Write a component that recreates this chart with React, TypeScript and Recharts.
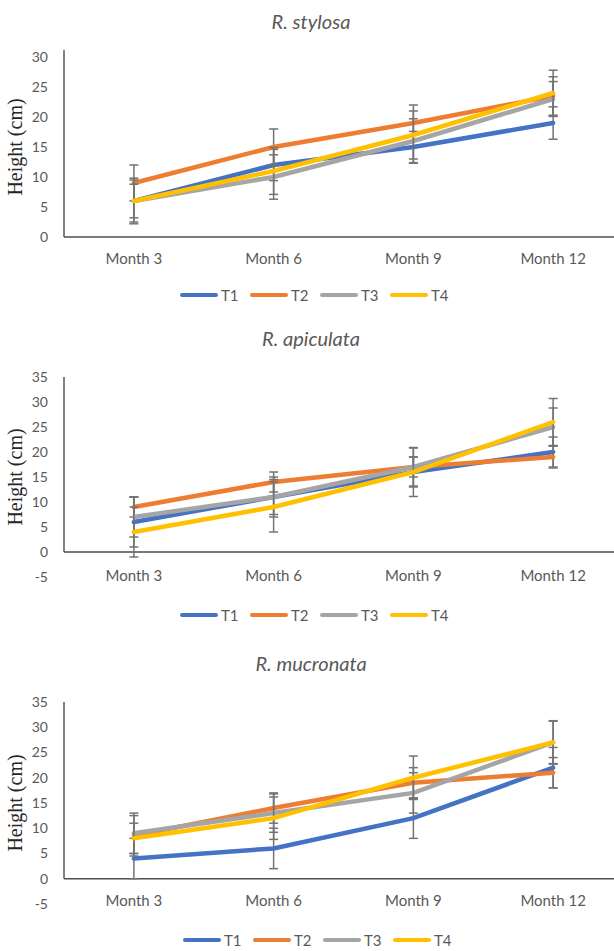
import { LineChart, Line, XAxis, YAxis, ErrorBar, ReferenceLine } from "recharts";

const months = ["Month 3", "Month 6", "Month 9", "Month 12"];
const seriesNames = ["T1", "T2", "T3", "T4"];
const COLORS = ["#4472C4", "#ED7D31", "#A5A5A5", "#FFC000"];

// R. stylosa
const stylosaT1 = [6, 12, 15, 19];
const stylosaT2 = [9, 15, 19, 23.5];
const stylosaT3 = [6, 10, 16, 23];
const stylosaT4 = [6, 11, 17, 24];
const stylosaErrT1 = [3.8, 2.6, 2.6, 2.7];
const stylosaErrT2 = [3, 3, 3, 3.2];
const stylosaErrT3 = [3.5, 3.7, 3.7, 2.9];
const stylosaErrT4 = [2.8, 3.9, 4, 3.8];

// R. apiculata
const apiculataT1 = [6, 11, 16, 20];
const apiculataT2 = [9, 14, 17, 19];
const apiculataT3 = [7, 11, 17, 25];
const apiculataT4 = [4, 9, 16, 26];
const apiculataErrT1 = [5, 4, 3, 3];
const apiculataErrT2 = [2, 2, 2, 2.2];
const apiculataErrT3 = [4, 3.5, 3.8, 3.8];
const apiculataErrT4 = [5, 5, 4.9, 4.7];

// R. mucronata
const mucronataT1 = [4, 6, 12, 22];
const mucronataT2 = [8.5, 14, 19, 21];
const mucronataT3 = [9, 13, 17, 27];
const mucronataT4 = [8, 12, 20, 27];
const mucronataErrT1 = [4, 4, 4, 4];
const mucronataErrT2 = [4, 3, 3, 3];
const mucronataErrT3 = [4, 3.8, 4, 4.2];
const mucronataErrT4 = [3, 4.2, 4.3, 4.3];

const ticksA = [0, 5, 10, 15, 20, 25, 30];
const ticksB = [-5, 0, 5, 10, 15, 20, 25, 30, 35];

function rows(vals: number[][], errs: number[][]) {
  return months.map((m, i) => {
    const r: Record<string, number | string> = { x: i, month: m };
    seriesNames.forEach((s, k) => {
      r[s] = vals[k][i];
      r[s + "e"] = errs[k][i];
    });
    return r;
  });
}

const stylosaData = rows(
  [stylosaT1, stylosaT2, stylosaT3, stylosaT4],
  [stylosaErrT1, stylosaErrT2, stylosaErrT3, stylosaErrT4]
);
const apiculataData = rows(
  [apiculataT1, apiculataT2, apiculataT3, apiculataT4],
  [apiculataErrT1, apiculataErrT2, apiculataErrT3, apiculataErrT4]
);
const mucronataData = rows(
  [mucronataT1, mucronataT2, mucronataT3, mucronataT4],
  [mucronataErrT1, mucronataErrT2, mucronataErrT3, mucronataErrT4]
);

const FONT = "Lato, 'Open Sans', sans-serif";
const AXIS = "#4d4d4d";
const TEXT = "#595959";

type Props = {
  title: string;
  data: Record<string, number | string>[];
  ticks: number[];
  top: number;
  height: number;
  marginTop: number;
  marginBottom: number;
  tickMargin: number;
  titleY: number;
  legendY: number;
  legendX: number;
  axisOver?: number;
};

function SpeciesChart(p: Props) {
  const min = p.ticks[0];
  const max = p.ticks[p.ticks.length - 1];
  return (
    <div style={{ position: "absolute", left: 0, top: p.top, width: 614, height: p.height }}>
      <div
        style={{
          position: "absolute",
          left: 0,
          width: 622,
          top: p.titleY - 13,
          textAlign: "center",
          fontFamily: FONT,
          fontStyle: "italic",
          fontSize: 20,
          lineHeight: "26px",
          color: TEXT,
        }}
      >
        {p.title}
      </div>
      <LineChart
        width={633}
        height={p.height}
        data={p.data}
        margin={{ top: p.marginTop, right: 10, left: 0, bottom: p.marginBottom }}
      >
        <XAxis
          type="number"
          dataKey="x"
          domain={[-0.5, 3.5]}
          ticks={[0, 1, 2, 3]}
          interval={0}
          tickFormatter={(v: number) => months[v]}
          axisLine={false}
          tickLine={false}
          tickSize={0}
          tickMargin={p.tickMargin}
          height={30}
          tick={{ fill: TEXT, fontSize: 15, fontFamily: FONT }}
        />
        <YAxis
          type="number"
          domain={[min, max]}
          ticks={p.ticks}
          interval={0}
          allowDataOverflow
          axisLine={false}
          tickLine={false}
          tickSize={0}
          tickMargin={16}
          width={64}
          tick={{ fill: TEXT, fontSize: 14, fontFamily: FONT }}
          label={{
            content: ({ viewBox }: any) => {
              const cy = viewBox.y + viewBox.height / 2;
              return (
                <text
                  x={15}
                  y={cy}
                  transform={`rotate(-90, 15, ${cy})`}
                  textAnchor="middle"
                  dominantBaseline="central"
                  fill="#262626"
                  fontFamily="'Liberation Serif', serif"
                  fontSize={20}
                >
                  Height (cm)
                </text>
              );
            },
          }}
        />
        <ReferenceLine y={0} stroke={AXIS} strokeWidth={1.4} />
        <ReferenceLine
          segment={[
            { x: -0.5, y: 0 },
            { x: -0.5, y: max + (p.axisOver ?? 0) },
          ]}
          ifOverflow="visible"
          stroke={AXIS}
          strokeWidth={1.4}
        />
        {seriesNames.map((s, k) => (
          <Line
            key={s}
            dataKey={s}
            type="linear"
            stroke={COLORS[k]}
            strokeWidth={4.5}
            strokeLinecap="round"
            dot={false}
            activeDot={false}
            isAnimationActive={false}
          >
            <ErrorBar
              dataKey={s + "e"}
              direction="y"
              width={4.5}
              stroke="#737373"
              strokeWidth={1.5}
              isAnimationActive={false}
            />
          </Line>
        ))}
      </LineChart>
      <div
        style={{
          position: "absolute",
          left: p.legendX,
          top: p.legendY - 10,
          height: 20,
          display: "flex",
          alignItems: "center",
          fontFamily: FONT,
          fontSize: 15,
          color: TEXT,
        }}
      >
        {seriesNames.map((s, k) => (
          <div key={s} style={{ display: "flex", alignItems: "center", width: 70 }}>
            <div style={{ width: 38, height: 4, borderRadius: 2, background: COLORS[k], marginRight: 3 }} />
            <span>{s}</span>
          </div>
        ))}
      </div>
    </div>
  );
}

export default function App() {
  return (
    <div
      style={{
        position: "absolute",
        left: 0,
        top: 0,
        width: 614,
        height: 951,
        overflow: "hidden",
        background: "#fff",
      }}
    >
      <SpeciesChart
        title="R. stylosa"
        data={stylosaData}
        ticks={ticksA}
        top={0}
        height={320}
        marginTop={57}
        marginBottom={53}
        tickMargin={16}
        titleY={21}
        legendY={295}
        legendX={180}
        axisOver={1.2}
      />
      <SpeciesChart
        title="R. apiculata"
        data={apiculataData}
        ticks={ticksB}
        top={320}
        height={320}
        marginTop={57}
        marginBottom={33}
        tickMargin={-7}
        titleY={18}
        legendY={295}
        legendX={180}
      />
      <SpeciesChart
        title="R. mucronata"
        data={mucronataData}
        ticks={ticksB}
        top={640}
        height={311}
        marginTop={62}
        marginBottom={17}
        tickMargin={-9}
        titleY={23}
        legendY={300}
        legendX={183}
      />
    </div>
  );
}
